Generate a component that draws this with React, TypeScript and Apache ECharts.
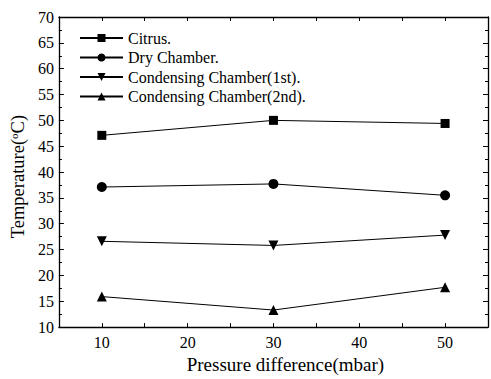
import React, { useEffect, useRef } from "react";
import * as echarts from "echarts";

const xValues = [10, 30, 50];
const seriesNames = [
  "Citrus.",
  "Dry Chamber.",
  "Condensing Chamber(1st).",
  "Condensing Chamber(2nd).",
];
const citrus = [47.1, 50.0, 49.4];
const dryChamber = [37.1, 37.7, 35.5];
const condensing1 = [26.6, 25.8, 27.8];
const condensing2 = [15.9, 13.3, 17.7];
const seriesValues = [citrus, dryChamber, condensing1, condensing2];
const symbols = ["rect", "circle", "triangle", "triangle"];
const symbolSizes = [9, 10, 10, 10];
const symbolRotates = [0, 0, 180, 0];

const FONT = "Liberation Serif";

export default function App() {
  const ref = useRef<HTMLDivElement>(null);
  useEffect(() => {
    if (!ref.current) return;
    const chart = echarts.init(ref.current, undefined, { renderer: "svg" });
    const axisLine = { show: true, lineStyle: { color: "#000", width: 1.3 } };
    const xCommon = {
      type: "value" as const,
      min: 5,
      max: 55,
      interval: 5,
      axisLine,
      axisTick: { show: true, inside: true, length: 4, lineStyle: { color: "#000" } },
      splitLine: { show: false },
    };
    const yCommon = {
      type: "value" as const,
      min: 10,
      max: 70,
      interval: 5,
      axisLine,
      axisTick: { show: true, inside: true, length: 5, lineStyle: { color: "#000" } },
      minorTick: { show: true, splitNumber: 2, length: 3, lineStyle: { color: "#000" } },
      splitLine: { show: false },
      minorSplitLine: { show: false },
    };
    chart.setOption({
      animation: false,
      backgroundColor: "#fff",
      textStyle: { fontFamily: FONT },
      grid: { left: 58, top: 17, right: 1, bottom: 45, containLabel: false },
      legend: {
        orient: "vertical",
        left: 79,
        top: 30,
        padding: 0,
        itemWidth: 43,
        itemHeight: 10,
        itemGap: 3.5,
        inactiveColor: "#000",
        textStyle: { fontFamily: FONT, fontSize: 16, color: "#000" },
        data: seriesNames,
      },
      xAxis: [
        {
          ...xCommon,
          position: "bottom",
          name: "Pressure difference(mbar)",
          nameLocation: "middle",
          nameGap: 26,
          nameTextStyle: { fontFamily: FONT, fontSize: 19, color: "#000", padding: [0, 0, 0, 24] },
          axisLabel: {
            fontFamily: FONT,
            fontSize: 16,
            color: "#000",
            margin: 7,
            formatter: (v: number) => (v % 10 === 0 && v > 5 && v < 55 ? String(v) : ""),
          },
        },
        {
          ...xCommon,
          position: "top",
          axisLabel: { show: false },
        },
      ],
      yAxis: [
        {
          ...yCommon,
          position: "left",
          name: "Temperature({sup|o}C)",
          nameLocation: "middle",
          nameGap: 26,
          nameTextStyle: {
            fontFamily: FONT,
            fontSize: 18.5,
            color: "#000",
            padding: [0, 9, 0, 0],
            rich: {
              sup: { fontFamily: FONT, fontSize: 11, color: "#000", verticalAlign: "top", padding: [0, 0, 8, 0] },
            },
          },
          axisLabel: { fontFamily: FONT, fontSize: 16, color: "#000", margin: 5 },
        },
        {
          ...yCommon,
          position: "right",
          axisLabel: { show: false },
        },
      ],
      series: seriesNames.map((name, i) => ({
        name,
        type: "line",
        xAxisIndex: 0,
        yAxisIndex: 0,
        data: xValues.map((x, j) => [x, seriesValues[i][j]]),
        symbol: symbols[i],
        symbolSize: symbolSizes[i],
        symbolRotate: symbolRotates[i],
        itemStyle: { color: "#000" },
        lineStyle: { color: "#000", width: 1 },
        clip: false,
      })),
    });
    return () => chart.dispose();
  }, []);
  return (
    <div
      ref={ref}
      style={{ position: "absolute", left: 0, top: 0, width: 491, height: 379 }}
    />
  );
}
